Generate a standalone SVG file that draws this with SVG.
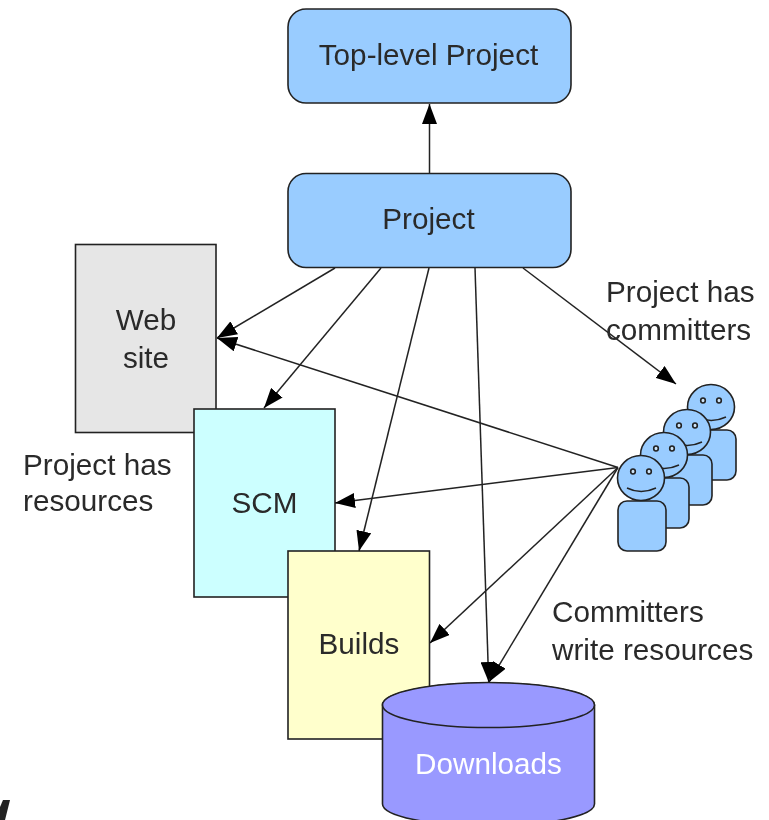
<svg xmlns="http://www.w3.org/2000/svg" width="769" height="820" viewBox="0 0 769 820">
<style>
text{font-family:"Liberation Sans",Arial,sans-serif;font-size:29.7px;fill:#2a2a2a}
.m{text-anchor:middle}
.s{stroke:#222;stroke-width:1.6}
.c{stroke:#222;stroke-width:1.5;fill:none;marker-end:url(#a)}
.b{fill:#99ccff}
.f{fill:none;stroke:#222;stroke-width:1.4}
.e{fill:#cfe4f7;stroke:#222;stroke-width:1.6}
</style>
<defs>
<filter id="soft" filterUnits="userSpaceOnUse" x="0" y="0" width="769" height="820"><feGaussianBlur stdDeviation="0.4"/></filter>
<marker id="a" markerUnits="userSpaceOnUse" markerWidth="20" markerHeight="15" refX="20" refY="7.500" orient="auto"><path d="M0 0L20 7.500L0 15Z" fill="#000"/></marker>
<g id="person">
<rect class="b s" x="618" y="501" width="48" height="50" rx="9"/>
<ellipse class="b s" cx="641" cy="478" rx="23.500" ry="22.500"/>
<ellipse class="e" cx="633" cy="471.500" rx="2.300" ry="2.500"/>
<ellipse class="e" cx="649" cy="471.500" rx="2.300" ry="2.500"/>
<path class="f" d="M627 488Q641 495 656 488"/>
</g>
</defs>
<g filter="url(#soft)">
<g id="node-web"><rect class="s" x="75.500" y="244.500" width="140.500" height="188" fill="#e6e6e6"/><text class="m" x="146" y="330">Web</text><text class="m" x="146" y="368">site</text></g>
<g id="node-scm"><rect class="s" x="194" y="409" width="141" height="188" fill="#ccffff"/><text class="m" x="264.500" y="513">SCM</text></g>
<g id="node-builds"><rect class="s" x="288" y="551" width="141.500" height="188" fill="#ffffcc"/><text class="m" x="359" y="654">Builds</text></g>
<g id="node-downloads"><path class="s" d="M382.500 705V804A106 22 0 0 0 594.500 804V705A106 22 0 0 0 382.500 705Z" fill="#9999ff"/><ellipse class="s" cx="488.500" cy="705" rx="106" ry="22.500" fill="#9999ff"/><text class="m" x="488.500" y="774" style="fill:#fff">Downloads</text></g>
<g id="node-top"><rect class="b s" x="288" y="9" width="283" height="94" rx="18"/><text class="m" x="428.500" y="65">Top-level Project</text></g>
<g id="node-project"><rect class="b s" x="288" y="173.500" width="283" height="94" rx="18"/><text class="m" x="428.500" y="229">Project</text></g>
<g id="node-committers">
<use href="#person" x="70" y="-71"/>
<use href="#person" x="46" y="-46"/>
<use href="#person" x="23" y="-23"/>
<use href="#person"/>
</g>
<g id="connectors">
<path class="c" d="M429.500 173V104"/>
<path class="c" d="M335 268L217 338"/>
<path class="c" d="M381 268L264 408"/>
<path class="c" d="M429 268L359 551"/>
<path class="c" d="M475 268L488.700 682"/>
<path class="c" d="M523 268L676 384"/>
<path class="c" d="M618 467.500L217 338"/>
<path class="c" d="M618 467.500L335 503"/>
<path class="c" d="M618 467.500L430 643"/>
<path class="c" d="M618 467.500L489 682"/>
</g>
<g id="labels">
<text x="606" y="302">Project has</text>
<text x="606" y="340">committers</text>
<text x="23" y="475">Project has</text>
<text x="23" y="511">resources</text>
<text x="552" y="622">Committers</text>
<text x="552" y="660">write resources</text>
</g>
<polygon id="edge-fragment" points="0,807 3,800 10,800 5,820 0,820" fill="#222"/>
</g>
</svg>
